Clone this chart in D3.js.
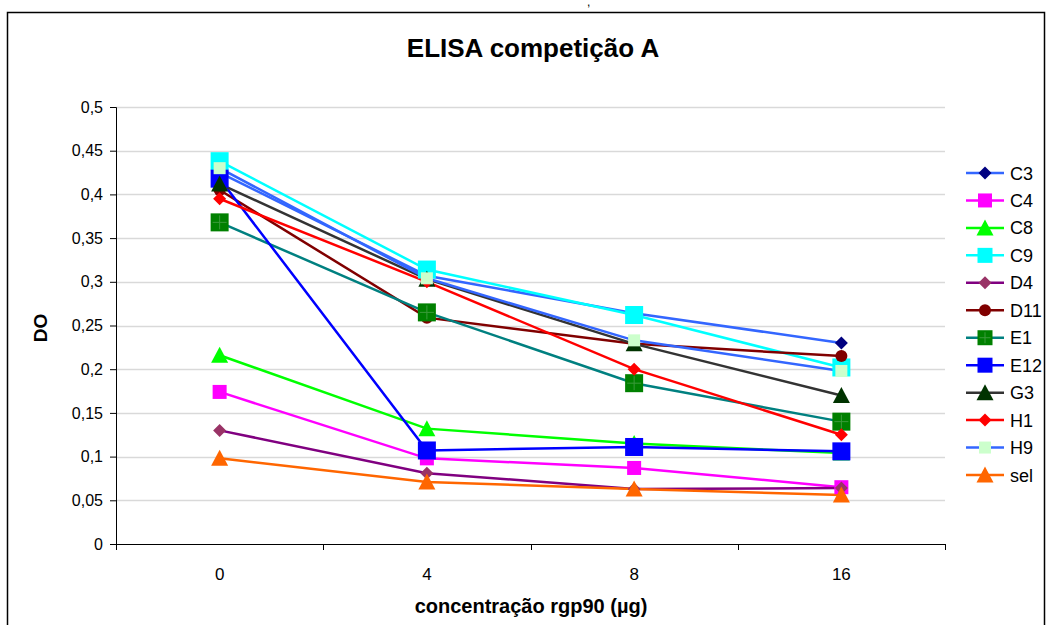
<!DOCTYPE html>
<html lang="pt">
<head>
<meta charset="UTF-8">
<title>ELISA competição A</title>
<style>
  body { margin: 0; background: #fff; }
  #main { width: 1048px; height: 625px; }
  text { font-family: "Liberation Sans", Arial, sans-serif; }
</style>
</head>
<body>
<div id="main"></div>
<script src="https://d3js.org/d3.v7.min.js"></script>
<script>
// data
const categories = ['0', '4', '8', '16'];
const yTicks = [0, 0.05, 0.1, 0.15, 0.2, 0.25, 0.3, 0.35, 0.4, 0.45, 0.5];

const C3  = [0.425, 0.307, 0.264, 0.230];
const C4  = [0.174, 0.098, 0.087, 0.065];
const C8  = [0.216, 0.132, 0.115, 0.104];
const C9  = [0.438, 0.314, 0.262, 0.202];
const D4  = [0.130, 0.081, 0.063, 0.064];
const D11 = [0.405, 0.259, 0.229, 0.215];
const E1  = [0.368, 0.265, 0.184, 0.140];
const E12 = [0.418, 0.107, 0.111, 0.106];
const G3  = [0.412, 0.303, 0.229, 0.170];
const H1  = [0.395, 0.300, 0.200, 0.125];
const H9  = [0.430, 0.304, 0.233, 0.198];
const sel = [0.098, 0.071, 0.063, 0.056];

// name, values, line colour, marker fill, marker shape, marker size
const series = [
  {name: 'C3',  values: C3,  line: '#3366ff', fill: '#000080', shape: 'diamond',  size: 13},
  {name: 'C4',  values: C4,  line: '#ff00ff', fill: '#ff00ff', shape: 'square',   size: 14},
  {name: 'C8',  values: C8,  line: '#00ff00', fill: '#00ff00', shape: 'triangle', size: 15},
  {name: 'C9',  values: C9,  line: '#00ffff', fill: '#00ffff', shape: 'square',   size: 18},
  {name: 'D4',  values: D4,  line: '#800080', fill: '#993366', shape: 'diamond',  size: 13},
  {name: 'D11', values: D11, line: '#800000', fill: '#800000', shape: 'circle',   size: 12},
  {name: 'E1',  values: E1,  line: '#008080', fill: '#008000', shape: 'plus',     size: 18},
  {name: 'E12', values: E12, line: '#0000ff', fill: '#0000ff', shape: 'square',   size: 18},
  {name: 'G3',  values: G3,  line: '#333333', fill: '#003300', shape: 'triangle', size: 15},
  {name: 'H1',  values: H1,  line: '#ff0000', fill: '#ff0000', shape: 'diamond',  size: 13},
  {name: 'H9',  values: H9,  line: '#3366ff', fill: '#ccffcc', shape: 'square',   size: 12},
  {name: 'sel', values: sel, line: '#ff6600', fill: '#ff6600', shape: 'triangle', size: 15}
];

const width = 1048, height = 625;
const plot = {left: 116, right: 945, top: 107, bottom: 544};

const svg = d3.select('#main').append('svg')
  .attr('width', width).attr('height', height)
  .attr('viewBox', `0 0 ${width} ${height}`);

// outer frame
svg.append('rect')
  .attr('x', 7.5).attr('y', 12.5).attr('width', 1037).attr('height', 620)
  .attr('fill', 'none').attr('stroke', '#000').attr('stroke-width', 1.5);

// stray mark above the frame
svg.append('text').attr('x', 587).attr('y', 6)
  .attr('font-size', 12).text(',');

const xScale = d3.scaleBand().domain(categories).range([plot.left, plot.right]);
const yScale = d3.scaleLinear().domain([0, 0.5]).range([plot.bottom, plot.top]);
const xPos = i => xScale(categories[i]) + xScale.bandwidth() / 2;

// grid
svg.append('g').selectAll('line').data(yTicks.filter(d => d > 0)).join('line')
  .attr('x1', plot.left).attr('x2', plot.right)
  .attr('y1', d => Math.round(yScale(d)) + 0.5).attr('y2', d => Math.round(yScale(d)) + 0.5)
  .attr('stroke', '#d9d9d9').attr('stroke-width', 1.5);

// y axis
const fmt = d => String(+d.toFixed(2)).replace('.', ',');
const yAxis = svg.append('g')
  .attr('transform', `translate(${plot.left},0)`)
  .call(d3.axisLeft(yScale).tickValues(yTicks).tickFormat(fmt).tickSize(6).tickPadding(7));
yAxis.selectAll('text').attr('font-size', 16).attr('fill', '#000')
  .style('font-family', '"Liberation Sans", Arial, sans-serif');
yAxis.selectAll('line, path').attr('stroke', '#000');

// x axis: ticks at band edges
const xAxisG = svg.append('g').attr('transform', `translate(0,${plot.bottom})`);
xAxisG.append('line').attr('x1', plot.left).attr('x2', plot.right)
  .attr('y1', 0.5).attr('y2', 0.5).attr('stroke', '#000');
const edges = categories.map(c => xScale(c)).concat([plot.right]);
xAxisG.selectAll('.tk').data(edges).join('line')
  .attr('x1', d => Math.round(d) + 0.5).attr('x2', d => Math.round(d) + 0.5)
  .attr('y1', 0).attr('y2', 6).attr('stroke', '#000');
xAxisG.selectAll('.lb').data(categories).join('text')
  .attr('x', c => xScale(c) + xScale.bandwidth() / 2).attr('y', 36)
  .attr('text-anchor', 'middle').attr('font-size', 17).text(c => c);

// titles
svg.append('text').attr('x', 533).attr('y', 57).attr('text-anchor', 'middle')
  .attr('font-size', 26).attr('font-weight', 'bold').text('ELISA competição A');
svg.append('text').attr('x', 531).attr('y', 613).attr('text-anchor', 'middle')
  .attr('font-size', 20).attr('font-weight', 'bold').text('concentração rgp90 (µg)');
svg.append('text').attr('transform', 'translate(47,328) rotate(-90)')
  .attr('text-anchor', 'middle').attr('font-size', 19).attr('font-weight', 'bold').text('DO');

// marker drawing
function drawMarker(g, s, x, y) {
  const h = s.size / 2;
  if (s.shape === 'square' || s.shape === 'plus') {
    g.append('rect').attr('x', x - h).attr('y', y - h)
      .attr('width', s.size).attr('height', s.size).attr('fill', s.fill);
    if (s.shape === 'plus') {
      g.append('path').attr('d', `M${x - h + 2},${y}H${x + h - 2}M${x},${y - h + 2}V${y + h - 2}`)
        .attr('stroke', '#3a9a3a').attr('stroke-width', 1);
    }
  } else if (s.shape === 'diamond') {
    g.append('path').attr('d', `M${x},${y - h}L${x + h},${y}L${x},${y + h}L${x - h},${y}Z`)
      .attr('fill', s.fill);
  } else if (s.shape === 'triangle') {
    g.append('path').attr('d', `M${x},${y - h - 1}L${x + h + 1},${y + h}L${x - h - 1},${y + h}Z`)
      .attr('fill', s.fill);
  } else if (s.shape === 'circle') {
    g.append('circle').attr('cx', x).attr('cy', y).attr('r', h).attr('fill', s.fill);
  }
}

const line = d3.line().x((d, i) => xPos(i)).y(d => yScale(d));
const lines = svg.append('g');
series.forEach(s => {
  lines.append('path').datum(s.values).attr('d', line)
    .attr('fill', 'none').attr('stroke', s.line).attr('stroke-width', 2.5);
});
const marks = svg.append('g');
series.forEach(s => {
  s.values.forEach((v, i) => drawMarker(marks, s, xPos(i), yScale(v)));
});

// legend
const legY = d3.scaleLinear().domain([0, series.length - 1]).range([173, 475]);
const leg = svg.append('g');
series.forEach((s, i) => {
  const y = legY(i);
  leg.append('line').attr('x1', 966).attr('x2', 1004).attr('y1', y).attr('y2', y)
    .attr('stroke', s.line).attr('stroke-width', 2.5);
  drawMarker(leg, Object.assign({}, s, {size: Math.min(s.size, 15)}), 985, y);
  leg.append('text').attr('x', 1010).attr('y', y + 6.5)
    .attr('font-size', 18).text(s.name);
});
</script>
</body>
</html>
